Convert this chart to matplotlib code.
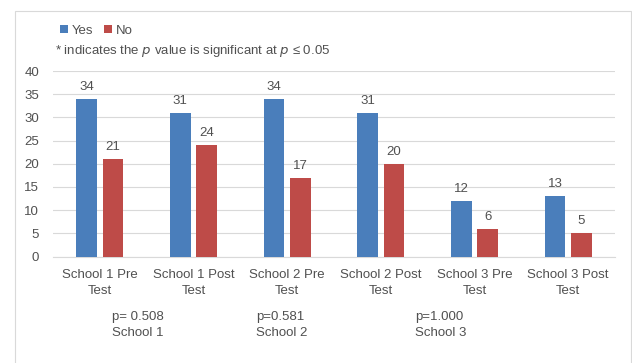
import numpy as np
import matplotlib.pyplot as plt
from matplotlib.patches import Rectangle

plt.rcParams['font.family'] = ['Liberation Sans', 'DejaVu Sans']

categories = ['School 1 Pre\nTest', 'School 1 Post\nTest', 'School 2 Pre\nTest',
              'School 2 Post\nTest', 'School 3 Pre\nTest', 'School 3 Post\nTest']
yes_vals = [34, 31, 34, 31, 12, 13]
no_vals = [21, 24, 17, 20, 6, 5]
p_labels = ['p= 0.508\nSchool 1', 'p=0.581\nSchool 2', 'p=1.000\nSchool 3']

blue = '#4A7EBB'
red = '#BE4B48'
text_col = '#505050'

fig = plt.figure(figsize=(6.32, 3.63), dpi=100)
fig.patches.append(Rectangle((15 / 632, -0.05), 616 / 632, 1 - 11 / 363 + 0.05,
                             transform=fig.transFigure, fill=False,
                             edgecolor='#d9d9d9', linewidth=0.8))
ax = fig.add_axes([53 / 632, 1 - 256.5 / 363, (615 - 53) / 632, (256.5 - 71) / 363])

x = np.arange(len(categories))
w = 0.223
off = 0.14
b1 = ax.bar(x - off, yes_vals, w, color=blue, label='Yes', zorder=3)
b2 = ax.bar(x + off, no_vals, w, color=red, label='No', zorder=3)
for bars in (b1, b2):
    for r in bars:
        ax.text(r.get_x() + r.get_width() / 2, r.get_height() + 1.3, str(int(r.get_height())),
                ha='center', va='bottom', fontsize=9.5, color=text_col)

ax.set_xlim(-0.5, len(categories) - 0.5)
ax.set_ylim(0, 40)
ax.set_yticks(range(0, 41, 5))
ax.yaxis.grid(True, color='#d9d9d9', linewidth=0.8, zorder=0)
ax.set_axisbelow(True)
for s in ['top', 'right', 'left']:
    ax.spines[s].set_visible(False)
ax.spines['bottom'].set_color('#d9d9d9')
ax.tick_params(axis='both', length=0, labelsize=9.5, colors=text_col)
ax.tick_params(axis='y', pad=10)
ax.tick_params(axis='x', pad=9)
ax.set_xticks(x)
ax.set_xticklabels(categories, linespacing=1.45)

ax.legend(loc='upper left', bbox_to_anchor=(48 / 632, 1 - 13 / 363), bbox_transform=fig.transFigure,
          ncol=2, frameon=False, fontsize=9.5, handlelength=0.6, handleheight=0.6,
          handletextpad=0.3, columnspacing=0.8, labelcolor=text_col)
fig.text(55 / 632, 1 - 51 / 363, '* indicates the $\\it{p}$ value is significant at $\\it{p}$ \u2264 0.05',
         fontsize=9.5, color=text_col, va='center')

for px, lab in zip([112, 256, 415], p_labels):
    fig.text(px / 632, 1 - 325 / 363, lab, fontsize=9.5, color=text_col, va='center',
             linespacing=1.5)

fig.savefig('out.png', dpi=100)
